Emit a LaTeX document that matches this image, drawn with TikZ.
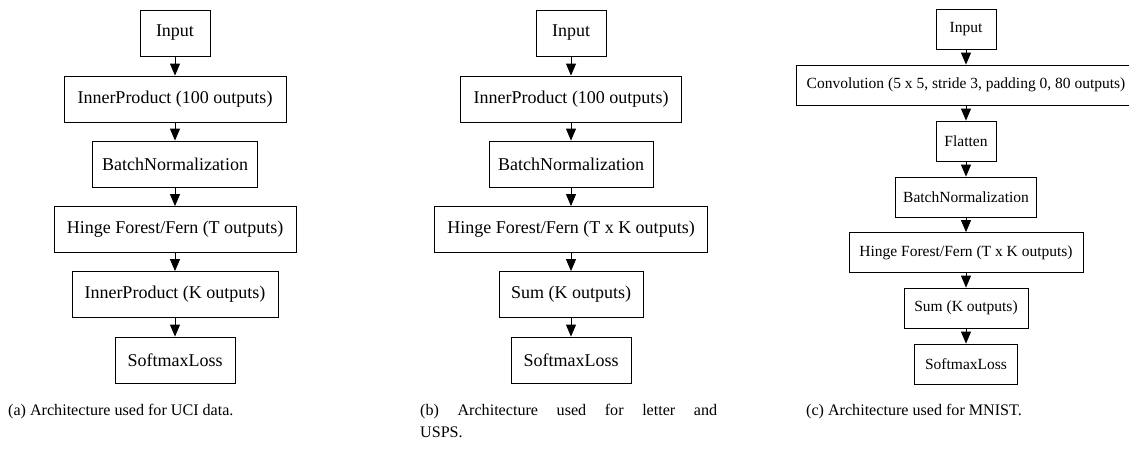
\documentclass[tikz,border=0pt]{standalone}
\usepackage{fontspec}
\setmainfont{Liberation Serif}
\usetikzlibrary{arrows.meta}
\tikzset{
  blk/.style={draw=black, line width=0.85pt, inner sep=0pt, minimum height=46pt, font=\fontsize{18}{20}\selectfont},
  blkc/.style={draw=black, line width=0.8pt, inner sep=0pt, minimum height=40pt, font=\fontsize{15.5}{17}\selectfont},
  flow/.style={draw=black, line width=0.85pt, -{Triangle[length=12pt,width=10pt]}},
  captext/.style={inner sep=0pt, anchor=north west, font=\fontsize{16.1}{21.5}\selectfont}
}
\begin{document}
\begin{tikzpicture}[x=1pt,y=-1pt]
\useasboundingbox (0,0) rectangle (1129,451);
\clip (0,0) rectangle (1129,451);
% panel (a)
\node[blk, minimum width=70pt]  (a1) at (175,33)    {Input};
\node[blk, minimum width=222pt] (a2) at (175,99)    {InnerProduct (100 outputs)};
\node[blk, minimum width=165pt] (a3) at (175,164)   {BatchNormalization};
\node[blk, minimum width=242pt] (a4) at (175,229.5) {Hinge Forest/Fern (T outputs)};
\node[blk, minimum width=206pt] (a5) at (175,294.5) {InnerProduct (K outputs)};
\node[blk, minimum width=120pt] (a6) at (175,360)   {SoftmaxLoss};
\foreach \i/\j in {a1/a2,a2/a3,a3/a4,a4/a5,a5/a6} \draw[flow] (\i) -- (\j);
\node[captext] (capa) at (8,404) {(a) Architecture used for UCI data.};
% panel (b)
\node[blk, minimum width=70pt]  (b1) at (571,33)    {Input};
\node[blk, minimum width=221pt] (b2) at (571,99)    {InnerProduct (100 outputs)};
\node[blk, minimum width=164pt] (b3) at (571,164)   {BatchNormalization};
\node[blk, minimum width=273pt] (b4) at (571,229.5) {Hinge Forest/Fern (T x K outputs)};
\node[blk, minimum width=144pt] (b5) at (571,294.5) {Sum (K outputs)};
\node[blk, minimum width=120pt] (b6) at (571,360)   {SoftmaxLoss};
\foreach \i/\j in {b1/b2,b2/b3,b3/b4,b4/b5,b5/b6} \draw[flow] (\i) -- (\j);
\node[captext, text width=297pt, align=justify] (capb) at (420,404) {(b) Architecture used for letter and\linebreak USPS.};
% panel (c)
\node[blkc, minimum width=60pt]  (c1) at (966,29)    {Input};
\node[blkc, minimum width=340pt] (c2) at (966,85)    {Convolution (5 x 5, stride 3, padding 0, 80 outputs)};
\node[blkc, minimum width=60pt]  (c3) at (966,141)   {Flatten};
\node[blkc, minimum width=141pt] (c4) at (966,197)   {BatchNormalization};
\node[blkc, minimum width=234pt] (c5) at (966,252.5) {Hinge Forest/Fern (T x K outputs)};
\node[blkc, minimum width=124pt] (c6) at (966,308)   {Sum (K outputs)};
\node[blkc, minimum width=103pt] (c7) at (966,364)   {SoftmaxLoss};
\foreach \i/\j in {c1/c2,c2/c3,c3/c4,c4/c5,c5/c6,c6/c7} \draw[flow] (\i) -- (\j);
\node[captext] (capc) at (806,404) {(c) Architecture used for MNIST.};
\end{tikzpicture}
\end{document}
